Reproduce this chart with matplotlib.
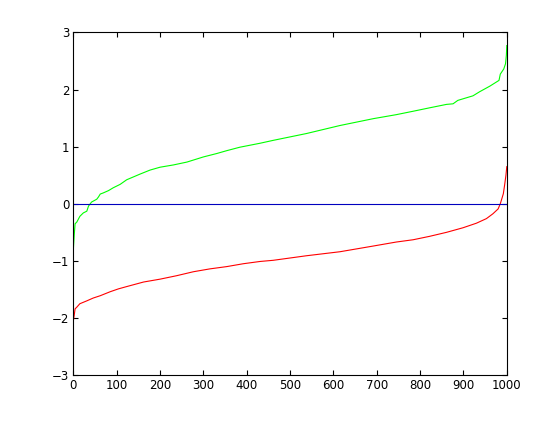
import numpy as np
import matplotlib
matplotlib.use("Agg")
import matplotlib.pyplot as plt

# values (sorted samples, index vs value)
green_x = [0, 2, 4, 8, 15, 19, 23, 31, 35, 42, 54, 58, 62, 69, 81, 92, 108, 123,
           154, 177, 200, 231, 262, 300, 331, 354, 384, 431, 461, 538, 615, 692,
           745, 784, 822, 861, 876, 887, 922, 937, 961, 982, 985, 993, 997, 999, 1000]
green_y = [-0.80, -0.55, -0.35, -0.32, -0.22, -0.19, -0.16, -0.13, -0.04, 0.03, 0.08,
           0.12, 0.17, 0.19, 0.23, 0.28, 0.34, 0.42, 0.52, 0.59, 0.64, 0.68, 0.73,
           0.82, 0.88, 0.93, 0.99, 1.06, 1.11, 1.23, 1.37, 1.49, 1.56, 1.62, 1.68,
           1.74, 1.75, 1.81, 1.89, 1.96, 2.06, 2.16, 2.27, 2.36, 2.45, 2.60, 2.77]

red_x = [0, 2, 4, 8, 15, 31, 46, 62, 85, 104, 123, 162, 200, 238, 277, 315, 354,
         392, 431, 461, 538, 615, 692, 745, 784, 822, 861, 899, 930, 953, 968,
         980, 985, 992, 995, 998, 1000]
red_y = [-2.05, -1.95, -1.84, -1.81, -1.75, -1.70, -1.65, -1.61, -1.54, -1.49,
         -1.45, -1.37, -1.32, -1.26, -1.19, -1.14, -1.10, -1.05, -1.01, -0.99,
         -0.91, -0.84, -0.74, -0.67, -0.63, -0.57, -0.50, -0.42, -0.34, -0.26,
         -0.175, -0.09, 0.0, 0.175, 0.33, 0.50, 0.65]

fig = plt.figure(figsize=(5.6, 4.21), dpi=100)
ax = fig.add_axes([0.131, 0.109, 0.774, 0.814])

ax.plot(green_x, green_y, color=(0, 1, 0), lw=0.8)
ax.plot(red_x, red_y, color=(1, 0, 0), lw=0.8)
ax.axhline(0, color=(0, 0, 0.75), lw=0.8)

ax.set_xlim(0, 1000)
ax.set_ylim(-3, 3)
ax.set_xticks(np.arange(0, 1001, 100))
ax.set_yticks(np.arange(-3, 4, 1))
ax.tick_params(direction='in', top=True, right=True, length=3.5, width=0.8,
               labelsize=8.5, pad=3)
for s in ax.spines.values():
    s.set_linewidth(0.8)

fig.savefig("out.png", dpi=100)
